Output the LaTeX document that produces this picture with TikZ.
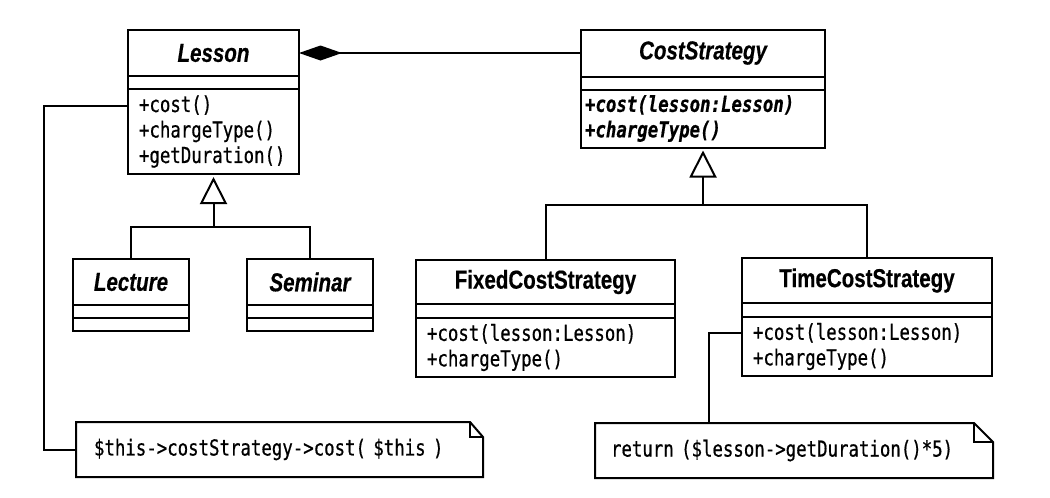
\documentclass[tikz,border=0pt]{standalone}
\usepackage{fontspec}
\usetikzlibrary{positioning}
\usetikzlibrary{arrows.meta}
\newfontfamily\classfont[FakeStretch=0.79,FakeBold=0.4]{Liberation Sans}
\newfontfamily\opfont[FakeStretch=0.79,FakeBold=0.6]{DejaVu Sans Mono}
\newcommand\opsize{\opfont\fontsize{22}{25.5}\selectfont}
\begin{document}
\begin{tikzpicture}[x=1pt,y=-1pt,line width=2pt,line join=miter]
			\tikzstyle{classname}=[draw,rectangle,inner sep=0pt,outer sep=0pt,minimum height=46pt,font=\classfont\fontsize{26}{30}\selectfont\bfseries]
			\tikzstyle{attrs}=[draw,rectangle,inner sep=0pt,outer sep=0pt,minimum height=13pt]
			\tikzstyle{ops}=[draw,rectangle,inner sep=0pt,outer sep=0pt,inner xsep=11pt,align=left,font=\opsize]
			\tikzstyle{note}=[rectangle,inner sep=0pt,outer sep=0pt,minimum height=55pt,align=left,font=\opsize]
			\tikzstyle{inherit}=[-{Triangle[open,length=27pt,width=27pt]},shorten >=3pt]
			\tikzstyle{compose}=[{Diamond[length=43pt,width=15pt]}-]
			
			\fill[white] (0,0) rectangle (1050,498);
			\useasboundingbox (0,0) rectangle (1050,498);
			
			\node[classname,minimum width=171pt] (lesson) at (213.5,53) {\itshape Lesson};
			\node[attrs,minimum width=171pt,below=0pt of lesson] (lessonattr) {};
			\node[ops,text width=149pt,minimum height=85pt,below=0pt of lessonattr] (lessonops) {+cost()\\+chargeType()\\+getDuration()};
			
			\node[classname,minimum width=244pt,minimum height=47pt] (cost) at (703,53) {\itshape CostStrategy};
			\node[attrs,minimum width=244pt,below=0pt of cost] (costattr) {};
			\node[ops,inner xsep=4pt,text width=236pt,minimum height=58pt,font=\opsize\bfseries\itshape,below=0pt of costattr] (costops) {+cost(lesson:Lesson)\\+chargeType()};
			
			\node[classname,minimum width=116pt] (lecture) at (131,282) {\itshape Lecture};
			\node[attrs,minimum width=116pt,below=0pt of lecture] (lectureattr) {};
			\node[attrs,minimum width=116pt,below=0pt of lectureattr] (lectureops) {};
			
			\node[classname,minimum width=126pt] (seminar) at (310,282) {\itshape Seminar};
			\node[attrs,minimum width=126pt,below=0pt of seminar] (seminarattr) {};
			\node[attrs,minimum width=126pt,below=0pt of seminarattr] (seminarops) {};
			
			\node[classname,minimum width=259pt,minimum height=44pt] (fixed) at (545.5,282) {FixedCostStrategy};
			\node[attrs,minimum width=259pt,minimum height=14pt,below=0pt of fixed] (fixedattr) {};
			\node[ops,text width=237pt,minimum height=59pt,below=0pt of fixedattr] (fixedops) {+cost(lesson:Lesson)\\+chargeType()};
			
			\node[classname,minimum width=250pt,minimum height=45pt] (time) at (867,280.5) {TimeCostStrategy};
			\node[attrs,minimum width=250pt,minimum height=14pt,below=0pt of time] (timeattr) {};
			\node[ops,text width=228pt,minimum height=59pt,below=0pt of timeattr] (timeops) {+cost(lesson:Lesson)\\+chargeType()};
			
			\node[note,inner xsep=18pt,text width=371pt] (note1) at (279.5,449.5) {\$this->costStrategy->cost( \$this )};
			\node[note,inner xsep=16pt,text width=366pt] (note2) at (794,450.5) {return (\$lesson->getDuration()*5)};
			
			\draw (note1.south west) -- (note1.north west) -- ([xshift=-13pt]note1.north east) -- ([yshift=-15pt]note1.north east) -- (note1.south east) -- cycle;
			\draw ([xshift=-13pt]note1.north east) |- ([yshift=-15pt]note1.north east);
			\draw (note2.south west) -- (note2.north west) -- ([xshift=-19pt]note2.north east) -- ([yshift=-19pt]note2.north east) -- (note2.south east) -- cycle;
			\draw ([xshift=-19pt]note2.north east) |- ([yshift=-19pt]note2.north east);
			
			\coordinate (lessonjoin) at ([yshift=-53pt]lessonops.south);
			\coordinate (costjoin) at ([yshift=-57pt]costops.south);
			\coordinate (lessonbend) at (44,106);
			\coordinate (timebend) at (709,333);
			
			\draw[compose] (lesson.east) -- (cost.west);
			\draw[inherit] (lessonjoin) -- (lessonops.south);
			\draw (lecture.north) |- (lessonjoin) -| (seminar.north);
			\draw[inherit] (costjoin) -- (costops.south);
			\draw (fixed.north) |- (costjoin) -| (time.north);
			\draw ([yshift=-17pt]lessonops.north west) -- (lessonbend) |- (note1.west);
			\draw ([yshift=-16pt]timeops.north west) -- (timebend) -- (timebend |- note2.north);
\end{tikzpicture}
\end{document}
